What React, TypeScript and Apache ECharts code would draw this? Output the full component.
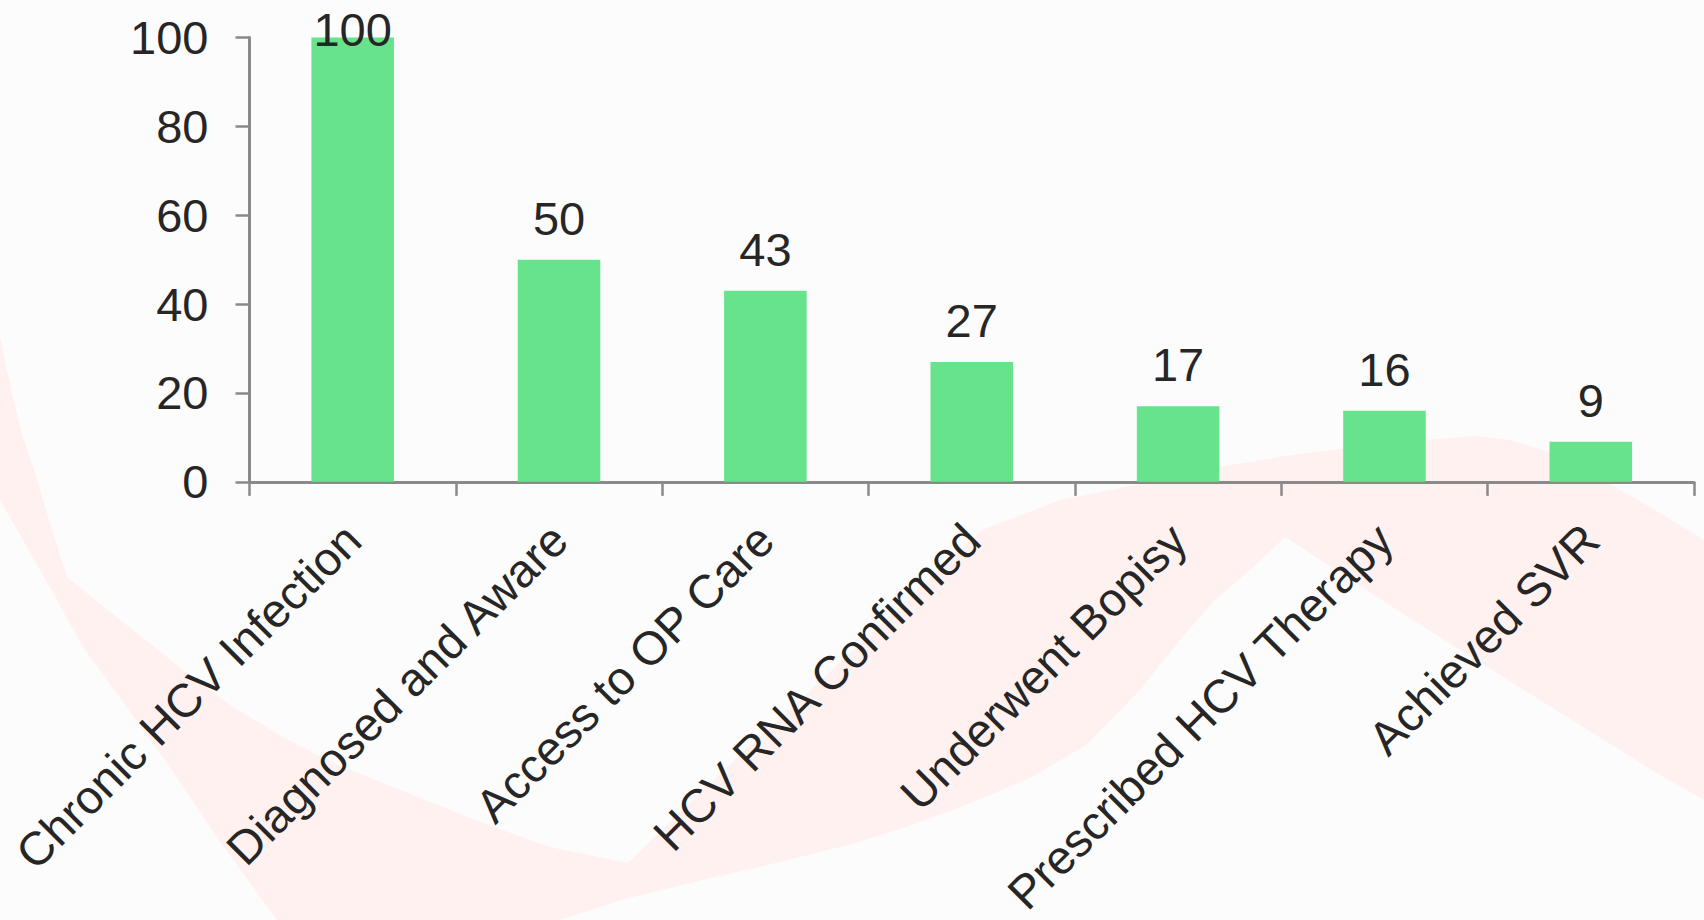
import React, { useEffect, useRef } from "react";
import * as echarts from "echarts";

const categories = [
  "Chronic HCV Infection",
  "Diagnosed and Aware",
  "Access to OP Care",
  "HCV RNA Confirmed",
  "Underwent Bopisy",
  "Prescribed HCV Therapy",
  "Achieved SVR",
];
const values = [100, 50, 43, 27, 17, 16, 9];
const yTicks = { min: 0, max: 100, interval: 20 };

const FONT = "'Liberation Sans', Arial, sans-serif";
const TEXT = "#262626";
const AXIS = "#8a8a8a";
const BAR = "#66e38b";
const PINK = "#fff1f0";

// decorative ribbon outline in the background (pixel coordinates)
const ribbon: number[][] = [
  [0, 337], [10, 385], [22, 435], [37, 480], [52, 530], [67, 577],
  [100, 604], [133, 630], [183, 670], [233, 707], [283, 737], [333, 763],
  [400, 790], [475, 820], [550, 847], [628, 863],
  [680, 812], [740, 755], [803, 697], [870, 634], [930, 578], [982, 530],
  [1060, 500], [1150, 482], [1219, 467], [1285, 456], [1346, 448],
  [1410, 441], [1475, 436], [1510, 440], [1543, 450], [1578, 465],
  [1608, 483], [1655, 510], [1704, 540],
  [1704, 800], [1660, 775], [1620, 750], [1575, 722], [1524, 690],
  [1465, 653], [1408, 617], [1345, 576], [1285, 537],
  [1250, 570], [1215, 600], [1180, 640], [1140, 690], [1086, 745],
  [1030, 778], [971, 803], [915, 824], [856, 843], [780, 862],
  [703, 880], [625, 899], [560, 920],
  [277, 920], [220, 842], [167, 763], [125, 705], [83, 647],
  [40, 570], [0, 500],
];

export default function App() {
  const ref = useRef<HTMLDivElement>(null);
  useEffect(() => {
    if (!ref.current) return;
    const chart = echarts.init(ref.current, undefined, { renderer: "svg" });
    const data = values.map((v, i) =>
      i === 0 ? { value: v, label: { offset: [0, 33] } } : v
    );
    chart.setOption({
      animation: false,
      backgroundColor: "#fcfcfc",
      graphic: [
        {
          type: "polygon",
          z: -100,
          silent: true,
          shape: { points: ribbon },
          style: { fill: PINK },
        },
      ],
      grid: { left: 249.5, right: 10, top: 37.5, bottom: 437.5, containLabel: false },
      xAxis: {
        type: "category",
        data: categories,
        axisLine: { lineStyle: { color: AXIS, width: 3 } },
        axisTick: { show: true, length: 14, lineStyle: { color: AXIS, width: 2.5 } },
        axisLabel: {
          interval: 0,
          rotate: 45,
          margin: 50,
          fontSize: 47,
          fontFamily: FONT,
          color: TEXT,
        },
      },
      yAxis: {
        type: "value",
        min: yTicks.min,
        max: yTicks.max,
        interval: yTicks.interval,
        splitLine: { show: false },
        axisLine: { show: true, lineStyle: { color: AXIS, width: 3 } },
        axisTick: { show: true, length: 14, lineStyle: { color: AXIS, width: 2.5 } },
        axisLabel: {
          margin: 41,
          fontSize: 47,
          fontFamily: FONT,
          color: TEXT,
        },
      },
      series: [
        {
          type: "bar",
          data,
          barWidth: "40%",
          itemStyle: { color: BAR },
          label: {
            show: true,
            position: "top",
            distance: 18,
            fontSize: 47,
            fontFamily: FONT,
            color: TEXT,
          },
        },
      ],
    });
    return () => chart.dispose();
  }, []);
  return (
    <div
      ref={ref}
      style={{ position: "fixed", left: 0, top: 0, width: 1704, height: 920 }}
    />
  );
}
